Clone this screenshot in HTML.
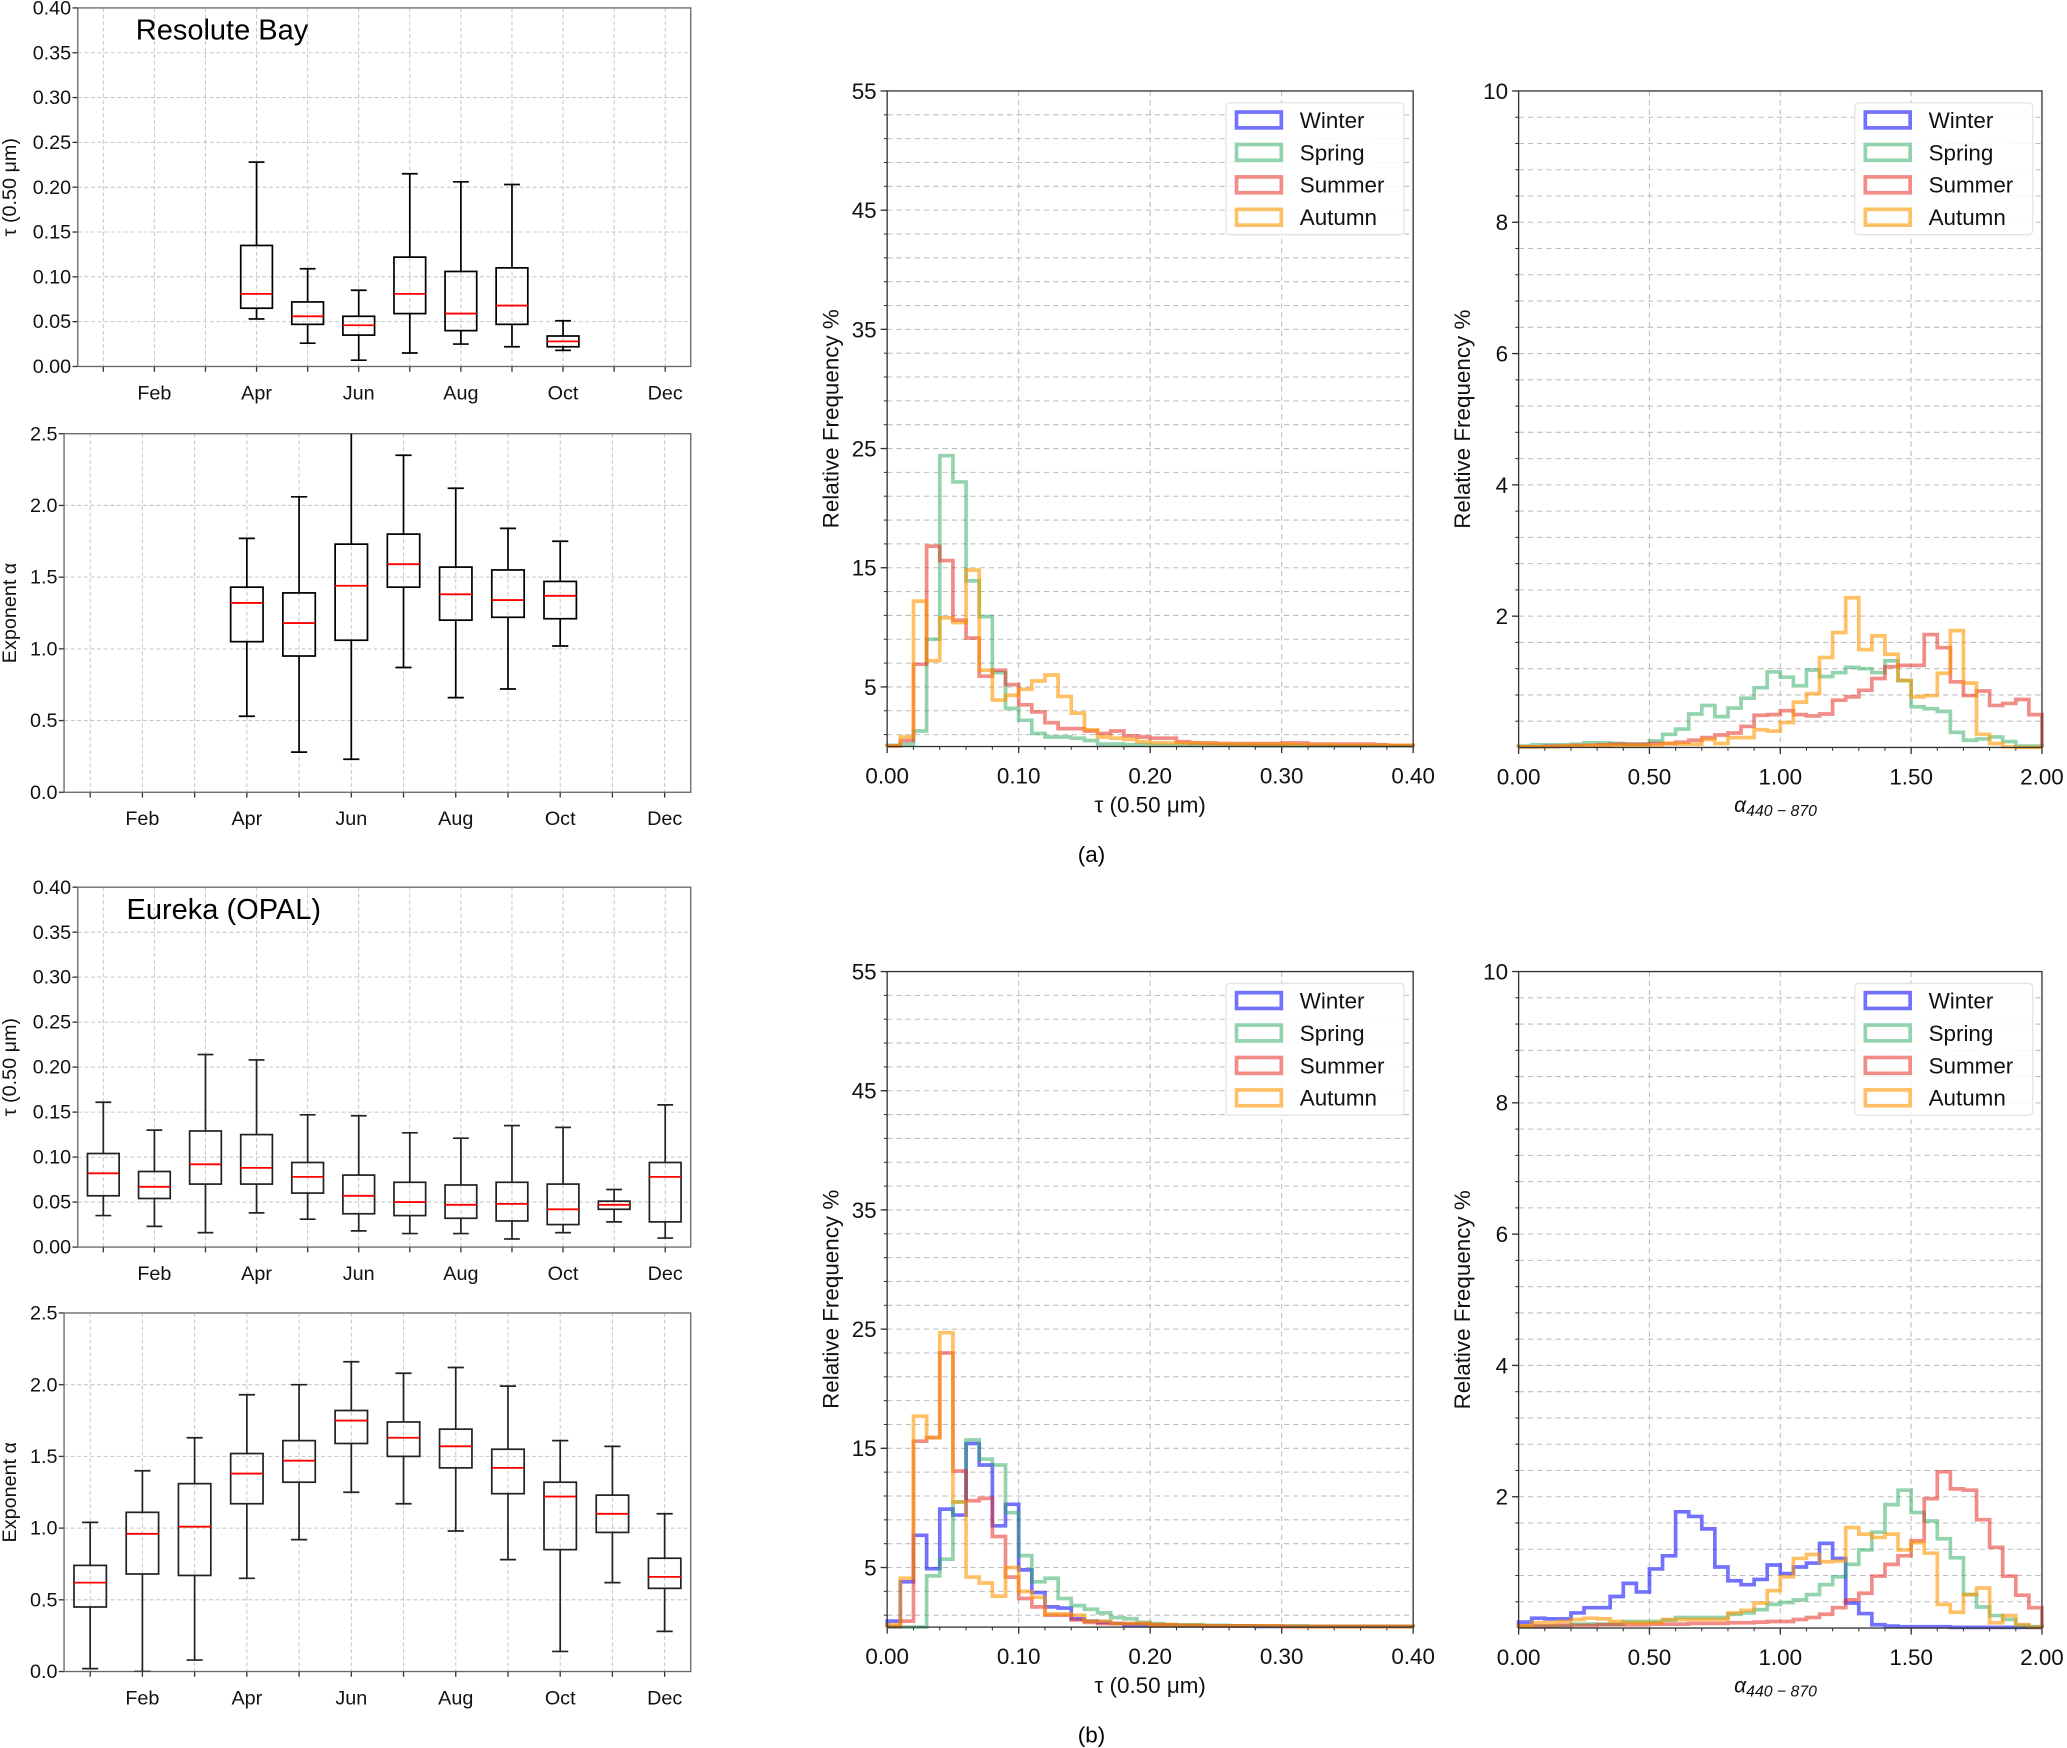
<!DOCTYPE html>
<html><head><meta charset="utf-8"><style>
html,body{margin:0;padding:0;background:#fff;}
svg{display:block;font-family:"Liberation Sans","DejaVu Sans",sans-serif;}
</style></head><body>
<svg id="fig" xmlns="http://www.w3.org/2000/svg" width="2067" height="1748" viewBox="0 0 1568 1326">
<rect x="0" y="0" width="1568" height="1326" fill="#fff"/>
<text x="828" y="654" font-size="17" text-anchor="middle">(a)</text>
<text x="828" y="1322" font-size="17" text-anchor="middle">(b)</text>
</svg>
<script>
const months = ["Jan","Feb","Mar","Apr","May","Jun","Jul","Aug","Sep","Oct","Nov","Dec"];
const monthLabels = ["","Feb","","Apr","","Jun","","Aug","","Oct","","Dec"];
const rbTauMonths = [4,5,6,7,8,9,10];
const rbTauLow = [0.053,0.026,0.007,0.015,0.025,0.022,0.018];
const rbTauQ1 = [0.065,0.047,0.035,0.059,0.040,0.047,0.022];
const rbTauMed = [0.081,0.056,0.046,0.081,0.059,0.068,0.028];
const rbTauQ3 = [0.135,0.072,0.056,0.122,0.106,0.110,0.034];
const rbTauHigh = [0.228,0.109,0.085,0.215,0.206,0.203,0.051];
const rbAlpMonths = [4,5,6,7,8,9,10];
const rbAlpLow = [0.53,0.28,0.23,0.87,0.66,0.72,1.02];
const rbAlpQ1 = [1.05,0.95,1.06,1.43,1.20,1.22,1.21];
const rbAlpMed = [1.32,1.18,1.44,1.59,1.38,1.34,1.37];
const rbAlpQ3 = [1.43,1.39,1.73,1.80,1.57,1.55,1.47];
const rbAlpHigh = [1.77,2.06,2.60,2.35,2.12,1.84,1.75];
const euTauMonths = [1,2,3,4,5,6,7,8,9,10,11,12];
const euTauLow = [0.035,0.023,0.016,0.038,0.031,0.018,0.015,0.015,0.009,0.016,0.028,0.010];
const euTauQ1 = [0.057,0.054,0.070,0.070,0.060,0.037,0.035,0.032,0.029,0.025,0.042,0.028];
const euTauMed = [0.082,0.067,0.092,0.088,0.078,0.057,0.050,0.047,0.048,0.042,0.047,0.078];
const euTauQ3 = [0.104,0.084,0.129,0.125,0.094,0.080,0.072,0.069,0.072,0.070,0.051,0.094];
const euTauHigh = [0.161,0.130,0.214,0.208,0.147,0.146,0.127,0.121,0.135,0.133,0.064,0.158];
const euAlpMonths = [1,2,3,4,5,6,7,8,9,10,11,12];
const euAlpLow = [0.02,0.00,0.08,0.65,0.92,1.25,1.17,0.98,0.78,0.14,0.62,0.28];
const euAlpQ1 = [0.45,0.68,0.67,1.17,1.32,1.59,1.50,1.42,1.24,0.85,0.97,0.58];
const euAlpMed = [0.62,0.96,1.01,1.38,1.47,1.75,1.63,1.57,1.42,1.22,1.10,0.66];
const euAlpQ3 = [0.74,1.11,1.31,1.52,1.61,1.82,1.74,1.69,1.55,1.32,1.23,0.79];
const euAlpHigh = [1.04,1.40,1.63,1.93,2.00,2.16,2.08,2.12,1.99,1.61,1.57,1.10];

const tauBinWidth = 0.01;
const alpBinWidth = 0.05;
const seasons = ["Winter","Spring","Summer","Autumn"];
const aTauSpring = [0.1,0.2,1.3,9.0,24.4,22.2,13.9,10.9,6.2,3.2,2.2,1.1,0.8,0.8,0.7,0.5,0.2,0.2,0.15,0.15,0.1,0.1,0.1,0.1,0.1,0.1,0.1,0.1,0.05,0.05,0.05,0.05,0.05,0.05,0.05,0.05,0.05,0.05,0.05,0.05];
const aTauSummer = [0.05,0.5,6.9,16.8,15.6,10.6,9.1,5.9,6.4,5.2,3.5,2.9,2.0,1.5,1.5,1.3,1.1,1.3,0.9,0.8,0.7,0.7,0.4,0.3,0.3,0.25,0.25,0.25,0.25,0.25,0.3,0.3,0.2,0.2,0.2,0.2,0.2,0.15,0.1,0.1];
const aTauAutumn = [0.05,0.8,12.2,7.2,10.8,10.4,14.8,6.4,3.9,4.3,4.8,5.5,6.0,4.2,2.8,1.4,0.8,0.7,0.6,0.4,0.3,0.3,0.3,0.3,0.25,0.25,0.2,0.2,0.2,0.2,0.2,0.15,0.15,0.15,0.1,0.1,0.1,0.1,0.1,0.1];
const aAlpSpring = [0.02,0.04,0.04,0.04,0.05,0.07,0.07,0.06,0.05,0.05,0.1,0.2,0.28,0.51,0.64,0.47,0.6,0.75,0.91,1.15,1.07,0.94,1.18,1.08,1.14,1.22,1.2,1.14,1.32,1.02,0.62,0.59,0.55,0.23,0.11,0.13,0.16,0.09,0.02,0.02];
const aAlpSummer = [0.01,0.01,0.02,0.02,0.03,0.03,0.04,0.05,0.05,0.05,0.06,0.06,0.08,0.11,0.15,0.19,0.22,0.32,0.49,0.5,0.56,0.5,0.48,0.51,0.72,0.77,0.87,1.05,1.23,1.25,1.25,1.72,1.52,1.0,0.79,0.86,0.64,0.67,0.73,0.5];
const aAlpAutumn = [0.01,0.01,0.01,0.02,0.02,0.03,0.03,0.03,0.03,0.03,0.03,0.06,0.05,0.05,0.12,0.06,0.15,0.15,0.27,0.25,0.38,0.69,0.82,1.37,1.75,2.28,1.49,1.7,1.42,1.02,0.77,0.79,1.13,1.78,0.98,0.2,0.06,0.01,0,0];
const bTauWinter = [0.5,3.8,7.7,4.9,9.9,9.4,15.4,13.6,8.5,10.3,4.8,2.9,1.7,1.6,0.7,0.5,0.4,0.3,0.2,0.2,0.15,0.15,0.1,0.1,0.1,0.1,0.1,0.1,0.05,0.05,0.05,0.05,0.05,0.05,0.05,0.05,0.05,0.05,0.05,0.05];
const bTauSpring = [0,0,0,4.3,5.7,10.5,15.7,14.1,13.6,9.6,6.0,3.8,4.1,2.4,1.8,1.5,1.2,0.8,0.7,0.4,0.3,0.2,0.2,0.2,0.15,0.15,0.1,0.1,0.1,0.1,0.1,0.1,0.05,0.05,0.05,0.05,0.05,0.05,0.05,0.05];
const bTauSummer = [0.05,0.5,15.6,15.9,23.0,13.1,10.6,10.8,7.6,4.2,2.4,1.7,1.0,1.0,0.6,0.4,0.3,0.3,0.3,0.3,0.2,0.2,0.15,0.15,0.1,0.1,0.1,0.1,0.1,0.1,0.05,0.05,0.05,0.05,0.05,0.05,0.05,0.05,0.05,0.05];
const bTauAutumn = [0.2,4.1,17.7,15.9,24.7,10.5,4.2,3.7,2.6,5.0,3.0,2.5,1.1,1.1,1.0,0.5,0.5,0.3,0.3,0.3,0.2,0.2,0.15,0.15,0.1,0.1,0.1,0.1,0.1,0.1,0.05,0.05,0.05,0.05,0.05,0.05,0.05,0.05,0.05,0.05];
const bAlpWinter = [0.09,0.15,0.14,0.14,0.23,0.31,0.31,0.48,0.68,0.55,0.9,1.1,1.77,1.7,1.51,0.93,0.72,0.66,0.74,0.96,0.83,0.93,0.99,1.29,1.06,0.38,0.22,0.05,0.03,0.02,0.02,0.02,0.02,0.01,0.01,0.01,0.01,0.01,0.01,0.01];
const bAlpSpring = [0.03,0.03,0.03,0.03,0.06,0.06,0.06,0.06,0.1,0.1,0.1,0.12,0.16,0.16,0.16,0.16,0.21,0.23,0.28,0.36,0.39,0.43,0.51,0.66,0.78,0.97,1.19,1.46,1.88,2.1,1.76,1.63,1.36,1.07,0.51,0.32,0.19,0.13,0.04,0.02];
const bAlpSummer = [0.03,0.03,0.03,0.04,0.04,0.04,0.05,0.05,0.05,0.05,0.06,0.06,0.06,0.07,0.07,0.07,0.08,0.08,0.09,0.1,0.1,0.13,0.16,0.21,0.31,0.43,0.53,0.79,0.97,1.1,1.33,1.97,2.38,2.12,2.1,1.65,1.23,0.79,0.5,0.31];
const bAlpAutumn = [0.03,0.08,0.08,0.1,0.13,0.15,0.14,0.1,0.08,0.08,0.08,0.13,0.13,0.13,0.13,0.13,0.23,0.27,0.38,0.57,0.78,1.06,1.12,1.01,1.02,1.53,1.43,1.38,1.43,1.19,1.3,1.14,0.36,0.24,0.51,0.61,0.08,0.19,0.05,0.01];
const tauTickLabels = ["0.00","0.05","0.10","0.15","0.20","0.25","0.30","0.35","0.40"];
const alpTickLabels = ["0.0","0.5","1.0","1.5","2.0","2.5"];
const histTauXLabels = ["0.00","0.10","0.20","0.30","0.40"];
const histAlpXLabels = ["0.00","0.50","1.00","1.50","2.00"];
const histTauYLabels = ["5","15","25","35","45","55"];
const histAlpYLabels = ["2","4","6","8","10"];

const NS = "http://www.w3.org/2000/svg";
const svg = document.getElementById("fig");
function mk(tag, attrs, parent) {
  const e = document.createElementNS(NS, tag);
  for (const k in attrs) e.setAttribute(k, attrs[k]);
  (parent || svg).appendChild(e);
  return e;
}
function txt(str, attrs, parent) {
  const e = mk("text", attrs, parent);
  e.textContent = str;
  return e;
}

function boxPanel(name, L, R, T, B, ymax, yStep, yLabels, ylabel, mon, lo, q1, md, q3, hi, title, titleX, ylblX, dark) {
  const g = mk("g", {});
  
  
  const xs = m => L + (m - 0.5) / 12 * (R - L);
  const ys = v => B - v / ymax * (B - T);
  const cid = name + "-clip";
  const cp = mk("clipPath", {id: cid}, g);
  mk("rect", {x: L, y: T, width: R - L, height: B - T}, cp);
  for (let m = 1; m <= 12; m++) {
    const gl = mk("line", {x1: xs(m), x2: xs(m), y1: T, y2: B, stroke: "#c8c8c8", "stroke-width": 0.8, "stroke-dasharray": "3,2"}, g);
    
    
    const tk = mk("line", {x1: xs(m), x2: xs(m), y1: B, y2: B + 4, stroke: "#333", "stroke-width": 1}, g);
    
    
    if (monthLabels[m - 1]) {
      const t = txt(monthLabels[m - 1], {x: xs(m), y: B + 25, "font-size": 15, "text-anchor": "middle", fill: "#111"}, g);
      
      
    }
  }
  for (let i = 0; i < yLabels.length; i++) {
    const v = i * yStep;
    if (i > 0 && i < yLabels.length - 1) {
      const gl = mk("line", {x1: L, x2: R, y1: ys(v), y2: ys(v), stroke: "#c8c8c8", "stroke-width": 0.8, "stroke-dasharray": "3,2"}, g);
      
      
    }
    const tk = mk("line", {x1: L - 4, x2: L, y1: ys(v), y2: ys(v), stroke: "#333", "stroke-width": 1}, g);
    
    
    const t = txt(yLabels[i], {x: L - 5, y: ys(v) + 5, "font-size": 15, "text-anchor": "end", fill: "#111"}, g);
    
    
  }
  const fr = mk("rect", {x: L, y: T, width: R - L, height: B - T, fill: "none", stroke: "#666", "stroke-width": 1}, g);
  
  
  const yl = txt(ylabel, {x: 0, y: 0, "font-size": 15, "text-anchor": "middle", transform: `translate(${ylblX},${(T + B) / 2}) rotate(-90)`, fill: "#111"}, g);
  
  
  if (title) {
    const tt = txt(title, {x: titleX, y: T + 24, "font-size": 22, fill: "#000"}, g);
    
    
  }
  const hw = (R - L) / 12 * 0.31;
  const cw = hw * 0.5;
  const col = dark ? "#222" : "#000";
  const bg = mk("g", {"clip-path": `url(#${cid})`}, g);
  for (let i = 0; i < mon.length; i++) {
    const x = xs(mon[i]);
    const bx = mk("g", {}, bg);
    
    
    mk("line", {x1: x, x2: x, y1: ys(hi[i]), y2: ys(q3[i]), stroke: col, "stroke-width": 1.3}, bx);
    mk("line", {x1: x, x2: x, y1: ys(q1[i]), y2: ys(lo[i]), stroke: col, "stroke-width": 1.3}, bx);
    mk("line", {x1: x - cw, x2: x + cw, y1: ys(hi[i]), y2: ys(hi[i]), stroke: col, "stroke-width": 1.3}, bx);
    mk("line", {x1: x - cw, x2: x + cw, y1: ys(lo[i]), y2: ys(lo[i]), stroke: col, "stroke-width": 1.3}, bx);
    mk("rect", {x: x - hw, y: ys(q3[i]), width: 2 * hw, height: ys(q1[i]) - ys(q3[i]), fill: "none", stroke: col, "stroke-width": 1.3}, bx);
    mk("line", {x1: x - hw, x2: x + hw, y1: ys(md[i]), y2: ys(md[i]), stroke: "#f00", "stroke-width": 1.4}, bx);
  }
}
boxPanel("resolute-tau-boxplot", 59, 524, 6, 278, 0.40, 0.05, tauTickLabels, "τ (0.50 μm)", rbTauMonths, rbTauLow, rbTauQ1, rbTauMed, rbTauQ3, rbTauHigh, "Resolute Bay", 103, 12, false);
boxPanel("resolute-alpha-boxplot", 48.6, 524, 329, 601, 2.5, 0.5, alpTickLabels, "Exponent α", rbAlpMonths, rbAlpLow, rbAlpQ1, rbAlpMed, rbAlpQ3, rbAlpHigh, null, 0, 12, false);
boxPanel("eureka-tau-boxplot", 59, 524, 673, 946, 0.40, 0.05, tauTickLabels, "τ (0.50 μm)", euTauMonths, euTauLow, euTauQ1, euTauMed, euTauQ3, euTauHigh, "Eureka (OPAL)", 96, 12, true);
boxPanel("eureka-alpha-boxplot", 48.6, 524, 996, 1268, 2.5, 0.5, alpTickLabels, "Exponent α", euAlpMonths, euAlpLow, euAlpQ1, euAlpMed, euAlpQ3, euAlpHigh, null, 0, 12, true);

const seasonColors = {Winter: "rgba(20,20,255,0.6)", Spring: "rgba(40,170,95,0.5)", Summer: "rgba(230,45,35,0.55)", Autumn: "rgba(255,150,0,0.6)"};
function histPanel(name, L, R, T, B, xmax, ymax, binW, xLabels, yLabels, yLabelVals, gridStep, gridStart, xlabel, isAlpha, series) {
  const g = mk("g", {});
  
  
  const xs = v => L + v / xmax * (R - L);
  const ys = v => B - v / ymax * (B - T);
  for (let v = gridStart; v <= ymax + 1e-9; v += gridStep) {
    const gl = mk("line", {x1: L, x2: R, y1: ys(v), y2: ys(v), stroke: "#bdbdbd", "stroke-width": 0.8, "stroke-dasharray": "4,3"}, g);
    
    
    const tk = mk("line", {x1: L - 2.5, x2: L, y1: ys(v), y2: ys(v), stroke: "#333", "stroke-width": 0.8}, g);
    
    
  }
  for (let i = 0; i < xLabels.length; i++) {
    const v = i * xmax / (xLabels.length - 1);
    if (i > 0 && i < xLabels.length - 1) {
      const gl = mk("line", {x1: xs(v), x2: xs(v), y1: T, y2: B, stroke: "#bdbdbd", "stroke-width": 0.8, "stroke-dasharray": "4,3"}, g);
      
      
    }
    const tk = mk("line", {x1: xs(v), x2: xs(v), y1: B, y2: B + 5, stroke: "#333", "stroke-width": 1}, g);
    
    
    const t = txt(xLabels[i], {x: xs(v), y: B + 28, "font-size": 17, "text-anchor": "middle", fill: "#111"}, g);
    
    
  }
  for (let v = 0; v <= xmax + 1e-9; v += xmax / 20) {
    const tk = mk("line", {x1: xs(v), x2: xs(v), y1: B, y2: B + 2.5, stroke: "#333", "stroke-width": 0.8}, g);
    
    
  }
  for (let i = 0; i < yLabels.length; i++) {
    const v = yLabelVals[i];
    const tk = mk("line", {x1: L - 5, x2: L, y1: ys(v), y2: ys(v), stroke: "#333", "stroke-width": 1}, g);
    
    
    const t = txt(yLabels[i], {x: L - 8, y: ys(v) + 6, "font-size": 17, "text-anchor": "end", fill: "#111"}, g);
    
    
  }
  const yl = txt("Relative Frequency %", {x: 0, y: 0, "font-size": 17, "text-anchor": "middle", transform: `translate(${L - 37},${(T + B) / 2}) rotate(-90)`, fill: "#111"}, g);
  
  
  let xl;
  if (isAlpha) {
    xl = txt("α", {x: xs(xmax / 2) - 35, y: B + 49, "font-size": 16, "font-style": "italic", fill: "#111"}, g);
    const sub = mk("tspan", {"font-size": 12, dy: 3}, xl);
    sub.textContent = "440 − 870";
  } else {
    xl = txt(xlabel, {x: xs(xmax / 2), y: B + 50, "font-size": 17, "text-anchor": "middle", fill: "#111"}, g);
  }
  
  
  for (const s of series) {
    const vals = s.values;
    let d = `M${xs(0)},${ys(0)}`;
    for (let i = 0; i < vals.length; i++) {
      d += ` L${xs(i * binW)},${ys(vals[i])} L${xs((i + 1) * binW)},${ys(vals[i])}`;
    }
    d += ` L${xs(vals.length * binW)},${ys(0)}`;
    const p = mk("path", {d: d, fill: "none", stroke: seasonColors[s.season], "stroke-width": 2.8, "stroke-linejoin": "miter"}, g);
    
    
  }
  const fr = mk("rect", {x: L, y: T, width: R - L, height: B - T, fill: "none", stroke: "#333", "stroke-width": 1}, g);
  
  
  const lx = R - 142, ly = T + 9;
  const lg = mk("g", {}, g);
  
  
  mk("rect", {x: lx, y: ly, width: 135, height: 100, rx: 3, fill: "rgba(255,255,255,0.85)", stroke: "#e4e4e4", "stroke-width": 1}, lg);
  for (let i = 0; i < seasons.length; i++) {
    const yy = ly + 13 + i * 24.6;
    const e = mk("g", {}, lg);
    
    
    mk("rect", {x: lx + 8, y: yy - 6, width: 34, height: 12, fill: "none", stroke: seasonColors[seasons[i]], "stroke-width": 2.8}, e);
    txt(seasons[i], {x: lx + 56, y: yy + 6, "font-size": 17, fill: "#111"}, e);
  }
}
histPanel("hist-resolute-tau", 673, 1072, 69, 566.3, 0.40, 55, tauBinWidth, histTauXLabels, histTauYLabels, [5,15,25,35,45,55], 2, 1, "τ (0.50 μm)", false,
  [{season: "Spring", values: aTauSpring}, {season: "Summer", values: aTauSummer}, {season: "Autumn", values: aTauAutumn}]);
histPanel("hist-resolute-alpha", 1152, 1549, 69, 567, 2.0, 10, alpBinWidth, histAlpXLabels, histAlpYLabels, [2,4,6,8,10], 0.4, 0.4, "α", true,
  [{season: "Spring", values: aAlpSpring}, {season: "Summer", values: aAlpSummer}, {season: "Autumn", values: aAlpAutumn}]);
histPanel("hist-eureka-tau", 673, 1072, 737, 1234.3, 0.40, 55, tauBinWidth, histTauXLabels, histTauYLabels, [5,15,25,35,45,55], 2, 1, "τ (0.50 μm)", false,
  [{season: "Winter", values: bTauWinter}, {season: "Spring", values: bTauSpring}, {season: "Summer", values: bTauSummer}, {season: "Autumn", values: bTauAutumn}]);
histPanel("hist-eureka-alpha", 1152, 1549, 737, 1235, 2.0, 10, alpBinWidth, histAlpXLabels, histAlpYLabels, [2,4,6,8,10], 0.4, 0.4, "α", true,
  [{season: "Winter", values: bAlpWinter}, {season: "Spring", values: bAlpSpring}, {season: "Summer", values: bAlpSummer}, {season: "Autumn", values: bAlpAutumn}]);
</script>
</body></html>
